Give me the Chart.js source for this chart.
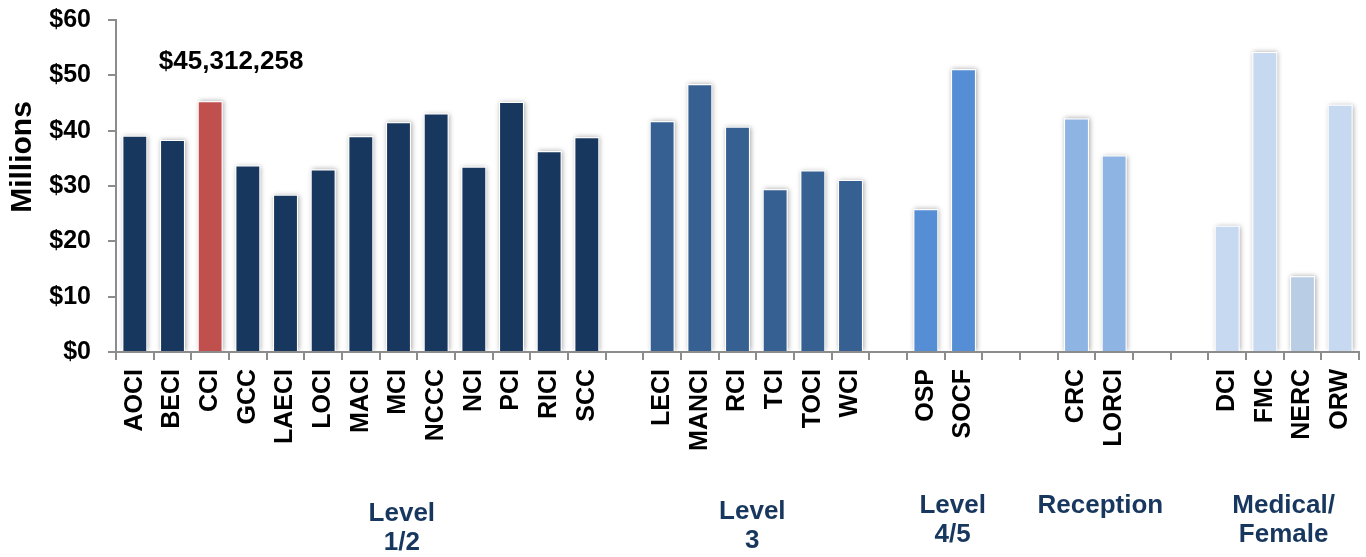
<!DOCTYPE html>
<html>
<head>
<meta charset="utf-8">
<title>Cost by Facility</title>
<script src="https://cdn.jsdelivr.net/npm/chart.js@4.4.1/dist/chart.umd.min.js"></script>
<style>
  html, body { margin: 0; padding: 0; background: #fff; }
  #wrap { width: 1366px; height: 557px; position: relative; }
</style>
</head>
<body>
<div id="wrap"><canvas id="costChart"></canvas></div>
<script>
// facilities per group, costs in millions of dollars
var level12Names = ['AOCI', 'BECI', 'CCI', 'GCC', 'LAECI', 'LOCI', 'MACI', 'MCI', 'NCCC', 'NCI', 'PCI', 'RICI', 'SCC'];
var level12Costs = [39.1, 38.3, 45.312258, 33.7, 28.4, 33.0, 39.0, 41.5, 43.1, 33.5, 45.2, 36.3, 38.8];

var level3Names = ['LECI', 'MANCI', 'RCI', 'TCI', 'TOCI', 'WCI'];
var level3Costs = [41.7, 48.4, 40.7, 29.4, 32.8, 31.1];

var level45Names = ['OSP', 'SOCF'];
var level45Costs = [25.8, 51.1];

var receptionNames = ['CRC', 'LORCI'];
var receptionCosts = [42.2, 35.5];

var medicalNames = ['DCI', 'FMC', 'NERC', 'ORW'];
var medicalCosts = [22.8, 54.2, 13.7, 44.7];

var groupTitles = [['Level', '1/2'], ['Level', '3'], ['Level', '4/5'], ['Reception'], ['Medical/', 'Female']];
var spacers = [1, 1, 2, 2]; // empty slots after each group

var yTicks = [0, 10, 20, 30, 40, 50, 60];
var highlightName = 'CCI';

// colours
var groupColors = ['#18375e', '#366092', '#558ed5', '#8eb4e3', '#c6d9f1'];
var specialColors = { CCI: '#c0504d', NERC: '#b9cde5' };

var groups = [
  [level12Names, level12Costs],
  [level3Names, level3Costs],
  [level45Names, level45Costs],
  [receptionNames, receptionCosts],
  [medicalNames, medicalCosts]
];

var labels = [], values = [], colors = [], groupSlots = [];
groups.forEach(function (g, gi) {
  var first = labels.length;
  g[0].forEach(function (name, i) {
    labels.push(name);
    values.push(g[1][i]);
    colors.push(specialColors[name] || groupColors[gi]);
  });
  groupSlots.push([first, labels.length - 1]);
  for (var s = 0; s < (spacers[gi] || 0); s++) {
    labels.push('');
    values.push(null);
    colors.push('rgba(0,0,0,0)');
  }
});

// soft grey glow behind every bar
var barShadow = {
  id: 'barShadow',
  beforeDatasetsDraw: function (chart) {
    var ctx = chart.ctx, area = chart.chartArea;
    var meta = chart.getDatasetMeta(0);
    ctx.save();
    ctx.beginPath();
    ctx.rect(area.left, area.top - 10, area.right - area.left, area.bottom - area.top + 9);
    ctx.clip();
    meta.data.forEach(function (bar, i) {
      if (values[i] == null) return;
      var p = bar.getProps(['x', 'y', 'base', 'width'], true);
      ctx.shadowColor = 'rgba(0,0,0,0.35)';
      ctx.shadowBlur = 5;
      ctx.shadowOffsetX = 1;
      ctx.fillStyle = '#ffffff';
      ctx.fillRect(p.x - p.width / 2, p.y, p.width, p.base - p.y);
    });
    ctx.restore();
  }
};

// value callout, axis title and group captions
var extraText = {
  id: 'extraText',
  afterDraw: function (chart) {
    var ctx = chart.ctx, x = chart.scales.x;
    ctx.save();

    var hi = labels.indexOf(highlightName);
    var bar = chart.getDatasetMeta(0).data[hi];
    var dollars = Math.round(values[hi] * 1e6);
    ctx.fillStyle = '#000';
    ctx.font = 'bold 26px "Liberation Sans", Arial, sans-serif';
    ctx.textAlign = 'center';
    ctx.textBaseline = 'middle';
    ctx.fillText('$' + dollars.toLocaleString('en-US'), bar.x + 21, bar.y - 39);

    ctx.save();
    ctx.translate(23, 157);
    ctx.rotate(-Math.PI / 2);
    ctx.font = 'bold 30px "Liberation Sans", Arial, sans-serif';
    ctx.fillText('Millions', 0, 0);
    ctx.restore();

    var slotW = x.width / labels.length;
    var nudge = [41, -4, 8, 5, 0];
    var firstLine = [514, 512, 506, 506, 506];
    ctx.fillStyle = '#18375e';
    ctx.font = 'bold 26px "Liberation Sans", Arial, sans-serif';
    groupTitles.forEach(function (lines, gi) {
      var s = groupSlots[gi];
      var cx = x.left + (s[0] + s[1] + 1) / 2 * slotW + nudge[gi];
      lines.forEach(function (txt, li) {
        ctx.fillText(txt, cx, firstLine[gi] + li * 29);
      });
    });
    ctx.restore();
  }
};

var ctx = document.getElementById('costChart').getContext('2d');
var costChart = new Chart(ctx, {
  type: 'bar',
  data: {
    labels: labels,
    datasets: [{
      data: values,
      backgroundColor: colors,
      borderColor: '#ffffff',
      borderWidth: { top: 1, left: 1, right: 1, bottom: 0 },
      borderSkipped: false,
      barPercentage: 0.66,
      categoryPercentage: 1.0
    }]
  },
  options: {
    responsive: true,
    maintainAspectRatio: false,
    animation: false,
    layout: { padding: { top: 20, right: 7, left: 0, bottom: 0 } },
    plugins: {
      legend: { display: false },
      tooltip: { enabled: false }
    },
    scales: {
      x: {
        offset: true,
        grid: { offset: true, drawOnChartArea: false, drawTicks: true, tickLength: 8, color: '#8c8c8c', lineWidth: 2 },
        border: { color: '#8c8c8c', width: 2 },
        ticks: {
          autoSkip: false,
          minRotation: 90,
          maxRotation: 90,
          padding: 9,
          color: '#000',
          font: { family: '"Liberation Sans", Arial, sans-serif', size: 25, weight: 'bold' }
        },
        afterFit: function (scale) {
          scale.height = 205;
          scale.paddingLeft = 0;
          scale.paddingRight = 0;
        }
      },
      y: {
        min: 0,
        max: 60,
        afterBuildTicks: function (scale) {
          scale.ticks = yTicks.map(function (v) { return { value: v }; });
        },
        grid: { drawOnChartArea: false, drawTicks: true, tickLength: 8, color: '#8c8c8c', lineWidth: 2 },
        border: { color: '#8c8c8c', width: 2 },
        ticks: {
          padding: 17,
          color: '#000',
          font: { family: '"Liberation Sans", Arial, sans-serif', size: 25, weight: 'bold' },
          callback: function (v) { return '$' + v; }
        },
        afterFit: function (scale) {
          scale.width = 116;
          scale.paddingTop = 0;
          scale.paddingBottom = 0;
        }
      }
    }
  },
  plugins: [barShadow, extraText]
});
</script>
</body>
</html>
